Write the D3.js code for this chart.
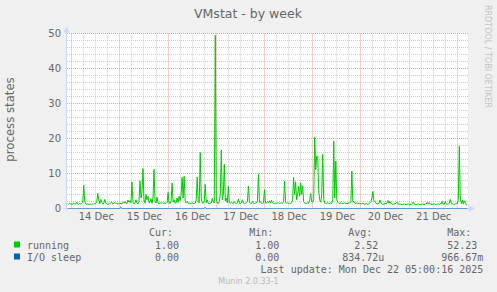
<!DOCTYPE html>
<html>
<head>
<meta charset="utf-8">
<script src="https://cdn.jsdelivr.net/npm/d3@7"></script>
<style>
  body { margin: 0; background: #f0f0f0; }
  svg { display: block; }
</style>
</head>
<body>
<svg id="chart" width="497" height="292"></svg>
<script>
// one sample every 30 min, first sample Dec 13 22:00
var startTime = Date.UTC(2025, 11, 13, 22, 0);
var stepMs = 30 * 60 * 1000;

var running13 = [1.3, 1.2, 1.5, 1.3];
var running14 = [1.3,1.2,1.6,1.3,1.2,1.8,1.3,1.2,1.5,1.3,1.4,1.8,
                 6.6,2.0,1.3,1.2,1.3,1.2,1.3,1.2,1.2,1.3,1.2,1.4,
                 1.5,2.0,4.3,2.5,1.4,2.6,1.8,1.3,1.5,2.6,1.6,1.3,
                 1.2,1.3,1.4,1.6,1.8,1.3,1.5,1.7,1.4,1.5,1.3,1.4];
var running15 = [1.5,1.4,1.3,1.8,1.5,2.0,1.6,1.4,2.4,1.8,2.2,1.6,
                 7.6,1.8,1.3,1.4,2.5,1.6,1.3,2.0,7.9,3.0,4.5,11.4,
                 2.5,1.5,4.0,2.5,3.5,1.6,1.8,2.8,1.5,3.0,11.2,2.0,
                 1.6,3.3,1.5,1.4,1.6,1.5,1.7,1.4,1.6,1.5,1.4,1.7];
var running16 = [4.6,1.6,1.4,2.2,7.3,1.8,2.5,1.5,1.6,3.0,1.7,3.5,
                 2.2,4.0,8.9,3.0,9.2,2.2,1.6,2.0,1.5,1.6,1.4,1.5,
                 1.6,1.5,1.4,1.5,2.5,9.0,1.8,1.7,16.0,3.0,1.6,1.5,
                 2.0,6.9,1.6,2.5,1.5,1.4,1.5,1.6,2.9,1.8,1.6,49.5];
var running17 = [3.0,1.5,1.4,2.0,4.0,16.7,2.5,4.0,12.6,2.2,3.0,1.6,
                 6.3,1.6,1.5,1.7,1.5,1.4,2.0,1.5,1.4,1.6,2.7,1.5,
                 1.4,1.6,2.5,1.5,1.4,1.5,1.6,2.0,6.4,1.8,1.5,1.4,
                 2.0,1.5,1.4,1.5,1.6,2.2,9.9,1.8,2.0,1.5,1.4,1.6];
var running18 = [5.4,1.6,1.5,2.0,1.6,2.2,1.5,2.4,1.6,1.5,1.4,1.5,
                 1.4,1.5,1.6,1.4,1.5,1.6,1.5,2.0,7.8,1.8,1.5,1.6,
                 1.5,1.4,1.5,1.6,2.5,8.9,4.0,7.6,2.5,4.0,6.3,3.5,
                 7.3,4.0,6.5,2.0,1.5,1.4,1.5,1.6,1.5,2.5,4.3,2.0];
var running19 = [1.8,2.5,20.4,11.0,15.0,14.8,5.0,2.5,1.8,4.0,15.5,2.5,
                 1.6,1.5,1.4,1.6,1.5,1.4,1.6,1.5,2.5,19.3,3.0,13.5,
                 2.5,1.8,1.5,1.4,1.6,1.5,1.4,1.5,1.6,1.4,1.5,1.4,
                 1.5,1.6,2.0,10.7,1.8,2.0,1.5,1.4,1.6,1.5,1.4,1.5];
var running20 = [1.4,1.3,1.5,1.3,1.2,1.4,1.3,1.2,1.4,1.6,2.0,3.0,
                 4.9,2.2,2.0,1.5,1.4,1.3,1.5,2.4,1.5,1.3,1.2,1.3,
                 1.4,1.3,1.6,2.3,1.5,2.0,1.4,1.3,1.2,1.3,1.4,1.5,
                 1.8,1.3,1.2,1.3,1.2,1.1,1.2,1.3,1.2,1.1,1.2,1.3];
var running21 = [1.2,1.1,1.2,1.3,1.8,1.3,1.2,1.1,1.2,1.3,1.2,1.1,
                 1.2,1.3,1.2,1.1,1.2,1.3,1.8,1.2,1.7,1.3,1.2,1.1,
                 1.2,1.3,1.2,1.1,1.2,1.3,1.2,1.4,1.3,2.0,1.3,1.2,
                 2.0,1.3,1.2,1.3,1.5,2.6,1.4,1.3,1.2,1.2,1.3,1.5];
var running22 = [1.3,2.5,17.8,3.0,1.4,2.4,1.3,2.2,1.5,1.0,1.0];

// I/O sleep is flat zero apart from these samples: [sample index, value]
var ioSleepNonZero = [[53, 0.5], [137, 0.4]];

var yTicks = [0, 10, 20, 30, 40, 50];
var xTickLabels = ["14 Dec", "15 Dec", "16 Dec", "17 Dec", "18 Dec", "19 Dec", "20 Dec", "21 Dec"];

var seriesNames = ["running", "I/O sleep"];
var seriesColors = ["#00cc00", "#0066b3"];
var curValues = ["1.00", "0.00"];
var minValues = ["1.00", "0.00"];
var avgValues = ["2.52", "834.72u"];
var maxValues = ["52.23", "966.67m"];
var lastUpdate = "Last update: Mon Dec 22 05:00:16 2025";

var running = [].concat(running13, running14, running15, running16, running17,
                        running18, running19, running20, running21, running22);
var runningData = running.map(function (v, i) {
    return { time: new Date(startTime + i * stepMs), value: v };
});
var ioData = running.map(function (v, i) {
    var hit = ioSleepNonZero.find(function (p) { return p[0] === i; });
    return { time: new Date(startTime + i * stepMs), value: hit ? hit[1] : 0 };
});

var svg = d3.select("#chart"),
    plotLeft = 67, plotRight = 468, plotTop = 33.5, plotBottom = 208.5,
    fontColor = "#666666",
    axisColor = "#cfd6f8";

var x = d3.scaleUtc()
    .domain([new Date(Date.UTC(2025, 11, 13, 21, 40)), new Date(Date.UTC(2025, 11, 22, 5, 20))])
    .range([plotLeft, plotRight]);
var y = d3.scaleLinear().domain([0, 50]).range([plotBottom, plotTop]);

function crisp(v) { return Math.floor(v) + 0.5; }

// canvas
svg.append("rect")
    .attr("x", plotLeft).attr("y", plotTop - 0.5)
    .attr("width", plotRight - plotLeft).attr("height", plotBottom - plotTop + 0.5)
    .attr("fill", "#ffffff");

// minor grid: every 6h / every 2 units
var grid = svg.append("g").attr("stroke-dasharray", "1,1").attr("stroke-width", 1);
d3.utcHour.every(6).range(x.domain()[0], x.domain()[1])
    .filter(function (t) { return t.getUTCHours() !== 0; })
    .forEach(function (t) {
        grid.append("line")
            .attr("x1", crisp(x(t))).attr("x2", crisp(x(t)))
            .attr("y1", plotTop).attr("y2", plotBottom)
            .attr("stroke", "#cccccc");
    });
d3.range(2, 50, 2).filter(function (v) { return v % 10 !== 0; }).forEach(function (v) {
    grid.append("line")
        .attr("x1", plotLeft).attr("x2", plotRight)
        .attr("y1", y(v)).attr("y2", y(v))
        .attr("stroke", "#cccccc");
});

// major grid: midnight / every 10 units
d3.utcDay.range(x.domain()[0], x.domain()[1]).forEach(function (t) {
    grid.append("line")
        .attr("x1", crisp(x(t))).attr("x2", crisp(x(t)))
        .attr("y1", plotTop).attr("y2", plotBottom)
        .attr("stroke", "#f39a9a");
});
yTicks.filter(function (v) { return v > 0; }).forEach(function (v) {
    grid.append("line")
        .attr("x1", plotLeft).attr("x2", plotRight)
        .attr("y1", y(v)).attr("y2", y(v))
        .attr("stroke", "#f39a9a");
});

// axes lines + arrows
svg.append("line").attr("x1", 66.5).attr("x2", 66.5).attr("y1", plotBottom + 3).attr("y2", 30)
    .attr("stroke", axisColor);
svg.append("line").attr("x1", 63).attr("x2", 470).attr("y1", plotBottom).attr("y2", plotBottom)
    .attr("stroke", axisColor);
svg.append("path").attr("d", "M63.5,32.5L66.5,26.5L69.5,32.5Z").attr("fill", axisColor);
svg.append("path").attr("d", "M468.5,205L474.5,208.5L468.5,212Z").attr("fill", axisColor);

// series
var line = d3.line()
    .x(function (d) { return x(d.time); })
    .y(function (d) { return y(d.value); });

svg.append("path").datum(ioData)
    .attr("d", line).attr("fill", "none")
    .attr("stroke", seriesColors[1]).attr("stroke-opacity", 0.6).attr("stroke-width", 1);
svg.append("path").datum(runningData)
    .attr("d", line).attr("fill", "none")
    .attr("stroke", seriesColors[0]).attr("stroke-width", 1);

// tick labels
var yAxis = svg.append("g").attr("transform", "translate(" + plotLeft + ",0)")
    .call(d3.axisLeft(y).tickValues(yTicks).tickSize(0).tickPadding(6));
var xAxis = svg.append("g").attr("transform", "translate(0," + plotBottom + ")")
    .call(d3.axisBottom(x)
        .tickValues(xTickLabels.map(function (l, i) { return new Date(Date.UTC(2025, 11, 14 + i, 12)); }))
        .tickFormat(function (d, i) { return xTickLabels[i]; })
        .tickSize(0).tickPadding(4.5));
[yAxis, xAxis].forEach(function (a) {
    a.select(".domain").remove();
    a.selectAll("text")
        .attr("font-family", "DejaVu Sans").attr("font-size", 10).attr("fill", fontColor);
});

// titles
svg.append("text").attr("x", 248).attr("y", 18.3).attr("text-anchor", "middle")
    .attr("font-family", "DejaVu Sans").attr("font-size", 12.5).attr("fill", fontColor)
    .text("VMstat - by week");
svg.append("text").attr("transform", "translate(14,119.5) rotate(-90)").attr("text-anchor", "middle")
    .attr("font-family", "DejaVu Sans").attr("font-size", 11.7).attr("fill", fontColor)
    .text("process states");
svg.append("text").attr("transform", "translate(485,5) rotate(90)")
    .attr("font-family", "DejaVu Sans").attr("font-size", 8).attr("fill", "#c4c4c4")
    .text("RRDTOOL / TOBI OETIKER");

// legend
var mono = "DejaVu Sans Mono";
var colEnds = [185, 285.3, 384.3, 483.3];
var headers = ["Cur:", "Min:", "Avg:", "Max:"];
var legend = svg.append("g").attr("font-family", mono).attr("font-size", 10).attr("fill", fontColor);
headers.forEach(function (h, c) {
    legend.append("text").attr("x", colEnds[c] - 12).attr("y", 236)
        .attr("text-anchor", "end").text(h);
});
seriesNames.forEach(function (name, r) {
    var base = 249 + r * 12;
    legend.append("rect").attr("x", 14).attr("y", base - 7.5).attr("width", 6).attr("height", 6)
        .attr("fill", seriesColors[r]);
    legend.append("text").attr("x", 27).attr("y", base).text(name);
    [curValues[r], minValues[r], avgValues[r], maxValues[r]].forEach(function (v, c) {
        var hasUnit = /[a-zA-Z]$/.test(v);
        legend.append("text").attr("x", colEnds[c] - (hasUnit ? 0 : 6)).attr("y", base)
            .attr("text-anchor", "end").text(v);
    });
});
legend.append("text").attr("x", 483.3).attr("y", 273).attr("text-anchor", "end").text(lastUpdate);

svg.append("text").attr("x", 248.5).attr("y", 284).attr("text-anchor", "middle")
    .attr("font-family", "DejaVu Sans").attr("font-size", 8).attr("fill", "#bbbbbb")
    .text("Munin 2.0.33-1");
</script>
</body>
</html>
